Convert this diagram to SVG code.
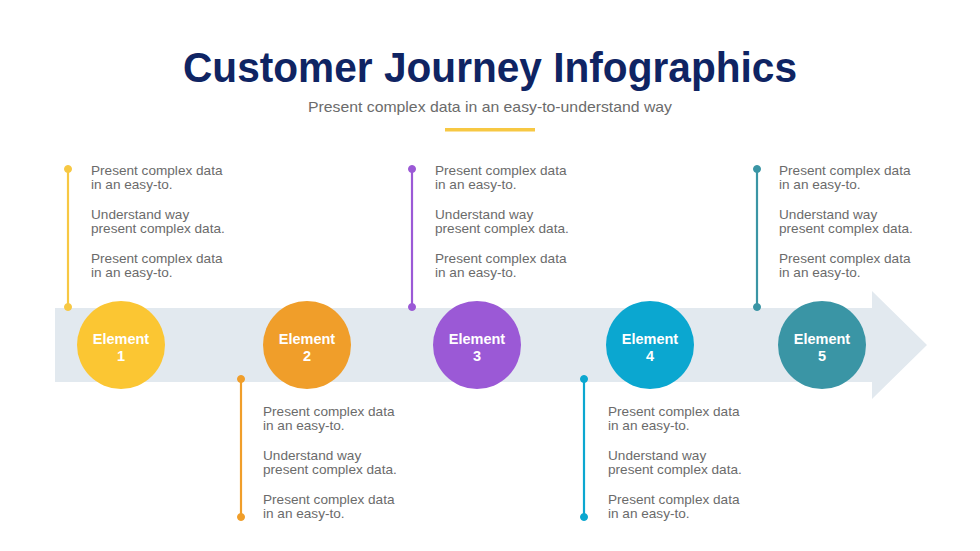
<svg xmlns="http://www.w3.org/2000/svg" width="980" height="551" viewBox="0 0 980 551">
<style>
.t{font-family:"Liberation Sans",Arial,sans-serif;font-size:13.6px;fill:#6b6b6b}
.lbl{font-family:"Liberation Sans",Arial,sans-serif;font-size:14.5px;font-weight:bold;fill:#ffffff;text-anchor:middle}
.ln{stroke-width:2.2}
</style>
<rect width="980" height="551" fill="#ffffff"/>
<text x="490" y="82" text-anchor="middle" font-family="'Liberation Sans',Arial,sans-serif" font-weight="bold" font-size="42" fill="#0f2463" textLength="614" lengthAdjust="spacingAndGlyphs">Customer Journey Infographics</text>
<text x="490" y="112" text-anchor="middle" font-family="'Liberation Sans',Arial,sans-serif" font-size="15" fill="#6b6b6b" textLength="364" lengthAdjust="spacingAndGlyphs">Present complex data in an easy-to-understand way</text>
<rect x="445" y="128" width="90" height="3.5" fill="#f7c843"/>
<path id="band" d="M55 308 H872 V291 L927 345 L872 399 V382 H55 Z" fill="#e2e9ef"/>
<g id="connectors">
<g stroke="#f7c843" fill="#f7c843"><line class="ln" x1="68" y1="169" x2="68" y2="307"/><circle cx="68" cy="169" r="3.5"/><circle cx="68" cy="307" r="3.5"/></g>
<g stroke="#f09e2a" fill="#f09e2a"><line class="ln" x1="241" y1="379" x2="241" y2="517"/><circle cx="241" cy="379" r="3.5"/><circle cx="241" cy="517" r="3.5"/></g>
<g stroke="#9b59d6" fill="#9b59d6"><line class="ln" x1="412" y1="169" x2="412" y2="307"/><circle cx="412" cy="169" r="3.5"/><circle cx="412" cy="307" r="3.5"/></g>
<g stroke="#0ba7d0" fill="#0ba7d0"><line class="ln" x1="584" y1="379" x2="584" y2="517"/><circle cx="584" cy="379" r="3.5"/><circle cx="584" cy="517" r="3.5"/></g>
<g stroke="#3a95a5" fill="#3a95a5"><line class="ln" x1="757" y1="169" x2="757" y2="307"/><circle cx="757" cy="169" r="3.5"/><circle cx="757" cy="307" r="3.5"/></g>
</g>
<g id="node1"><circle cx="121" cy="345" r="44" fill="#fbc633"/><text class="lbl" x="121" y="344">Element</text><text class="lbl" x="121" y="361">1</text></g>
<g id="node2"><circle cx="307" cy="345" r="44" fill="#f09e2a"/><text class="lbl" x="307" y="344">Element</text><text class="lbl" x="307" y="361">2</text></g>
<g id="node3"><circle cx="477" cy="345" r="44" fill="#9b59d6"/><text class="lbl" x="477" y="344">Element</text><text class="lbl" x="477" y="361">3</text></g>
<g id="node4"><circle cx="650" cy="345" r="44" fill="#0ba7d0"/><text class="lbl" x="650" y="344">Element</text><text class="lbl" x="650" y="361">4</text></g>
<g id="node5"><circle cx="822" cy="345" r="44" fill="#3a95a5"/><text class="lbl" x="822" y="344">Element</text><text class="lbl" x="822" y="361">5</text></g>
<g id="text1"><text class="t" x="91" y="175">Present complex data</text><text class="t" x="91" y="189">in an easy-to.</text><text class="t" x="91" y="219">Understand way</text><text class="t" x="91" y="233">present complex data.</text><text class="t" x="91" y="263">Present complex data</text><text class="t" x="91" y="277">in an easy-to.</text></g>
<g id="text3"><text class="t" x="435" y="175">Present complex data</text><text class="t" x="435" y="189">in an easy-to.</text><text class="t" x="435" y="219">Understand way</text><text class="t" x="435" y="233">present complex data.</text><text class="t" x="435" y="263">Present complex data</text><text class="t" x="435" y="277">in an easy-to.</text></g>
<g id="text5"><text class="t" x="779" y="175">Present complex data</text><text class="t" x="779" y="189">in an easy-to.</text><text class="t" x="779" y="219">Understand way</text><text class="t" x="779" y="233">present complex data.</text><text class="t" x="779" y="263">Present complex data</text><text class="t" x="779" y="277">in an easy-to.</text></g>
<g id="text2"><text class="t" x="263" y="416">Present complex data</text><text class="t" x="263" y="430">in an easy-to.</text><text class="t" x="263" y="460">Understand way</text><text class="t" x="263" y="474">present complex data.</text><text class="t" x="263" y="504">Present complex data</text><text class="t" x="263" y="518">in an easy-to.</text></g>
<g id="text4"><text class="t" x="608" y="416">Present complex data</text><text class="t" x="608" y="430">in an easy-to.</text><text class="t" x="608" y="460">Understand way</text><text class="t" x="608" y="474">present complex data.</text><text class="t" x="608" y="504">Present complex data</text><text class="t" x="608" y="518">in an easy-to.</text></g>
</svg>
